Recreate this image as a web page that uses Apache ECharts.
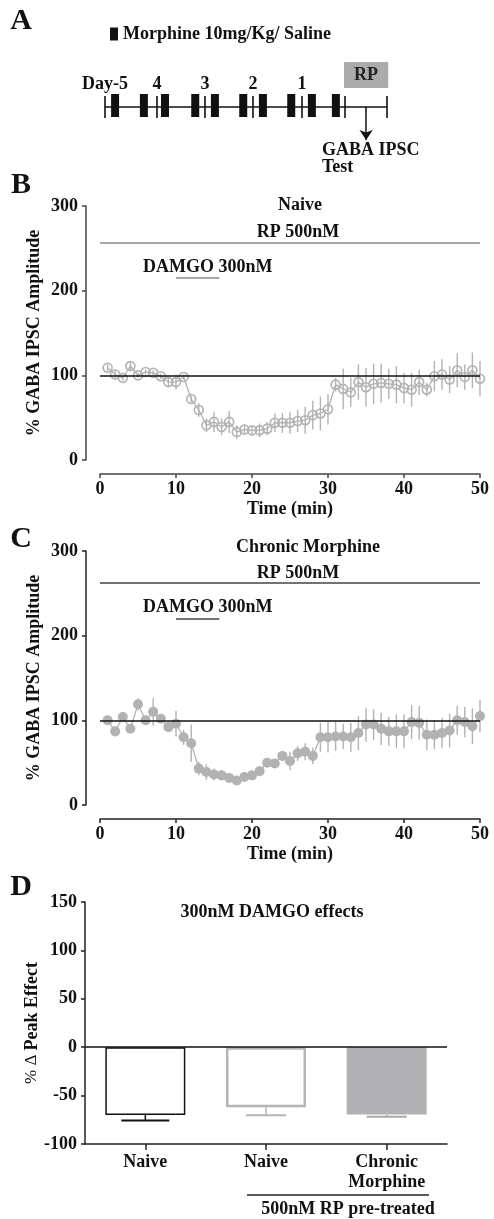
<!DOCTYPE html>
<html><head><meta charset="utf-8">
<script src="https://cdn.jsdelivr.net/npm/echarts@6/dist/echarts.min.js"></script>
<style>html,body{margin:0;padding:0;background:#fff}#c{width:494px;height:1219px}</style>
</head><body><div id="c"></div>
<script>
// ---------- Panel A: treatment schedule (in days from first tick) ----------
const dayTicks = [0, 1.083, 2.083, 3.083, 4.104, 5.0, 5.875];
const dayLabels = ['Day-5', '4', '3', '2', '1', '', ''];
const injections = [0.21, 0.81, 1.25, 1.88, 2.29, 2.88, 3.29, 3.88, 4.31, 4.81];
const rpWindow = [4.98, 5.9];
const testDay = 5.44;

// ---------- Panels B & C: time course ----------
const timeMin = [1,2,3,4,5,6,7,8,9,10,11,12,13,14,15,16,17,18,19,20,21,22,23,24,25,26,27,28,29,30,31,32,33,34,35,36,37,38,39,40,41,42,43,44,45,46,47,48,49,50];
const naiveMean = [109,101,97,111,100,104,103,99,92,92,98,72,59,41,45,39,45,33,36,35,35,37,44,44,44,46,47,53,55,60,89,84,80,92,86,90,91,90,89,85,83,92,83,99,101,95,106,98,106,96];
const naiveSem  = [4,4,3,6,3,3,3,3,5,9,3,4,8,8,12,10,13,8,6,5,8,8,11,12,13,13,16,17,20,18,8,24,17,21,23,24,23,18,22,18,20,15,8,18,18,16,20,15,21,21];
const chronicMean = [100,87,104,90,119,100,110,102,92,96,80,73,43,39,36,35,32,29,33,35,40,50,49,58,52,61,63,58,80,80,81,81,80,85,95,95,90,87,87,87,98,97,83,83,85,88,100,98,93,105];
const chronicSem  = [3,6,3,3,7,3,16,3,6,15,9,22,8,9,7,6,5,5,5,5,6,4,4,6,11,9,10,10,17,18,17,15,17,20,20,18,19,17,20,20,20,20,18,17,18,20,17,18,21,19];
const timeTicks = [0, 50, 10];          // min, max, step
const ampTicks = [0, 300, 100];
const baseline = 100;
const naiveRP = 257, naiveDamgo = 215;      // annotation bar heights (B)
const chronicRP = 262, chronicDamgo = 220;  // annotation bar heights (C)
const rpSpan = [0, 50];
const damgoSpan = [10, 15.7];

// ---------- Panel D: peak effect ----------
const groups = ['Naive', 'Naive', 'Chronic\nMorphine'];
const peakMean = [-70, -62, -69.5];
const peakSem = [5.6, 8.4, 2.3];
const peakTicks = [-100, 150, 50];

// ---------- styles ----------
const F = "'Liberation Serif','Times New Roman',serif";
const BOLD18 = {fontFamily: F, fontWeight: 'bold', fontSize: 18, color: '#111'};
const GRAY_B = '#b3b3b3', GRAY_C = '#b2b2b4';
const barStyles = [
  {color: '#ffffff', borderColor: '#111', borderWidth: 1.5},
  {color: '#ffffff', borderColor: '#b5b5b7', borderWidth: 2.5},
  {color: '#b1b1b4', borderColor: '#b1b1b4', borderWidth: 0}
];
const errColors = ['#111', '#b5b5b7', '#a9a9ac'];
const errCaps = [48, 40, 40];

function vErr(color, w) {
  return function (params, api) {
    const x = api.value(0), y = api.value(1), e = api.value(2);
    const a = api.coord([x, y + e]), b = api.coord([x, y - e]);
    return {type: 'line', shape: {x1: a[0], y1: a[1], x2: b[0], y2: b[1]}, style: {stroke: color, lineWidth: w}};
  };
}

function timeAxis(grid, color) {
  return {
    gridIndex: grid, type: 'value', min: timeTicks[0], max: timeTicks[1], interval: timeTicks[2], offset: 14,
    axisLine: {show: true, onZero: false, lineStyle: {color: color, width: 1.5}},
    axisTick: {show: true, length: 4, lineStyle: {color: color, width: 1.5}},
    axisLabel: Object.assign({margin: 6}, BOLD18),
    splitLine: {show: false},
    name: 'Time (min)', nameLocation: 'middle', nameGap: 26, nameMoveOverlap: false, nameTextStyle: BOLD18
  };
}
function ampAxis(grid, color) {
  return {
    gridIndex: grid, type: 'value', min: ampTicks[0], max: ampTicks[1], interval: ampTicks[2], offset: 14,
    axisLine: {show: true, onZero: false, lineStyle: {color: color, width: 1.5}},
    axisTick: {show: true, length: 4, lineStyle: {color: color, width: 1.5}},
    axisLabel: Object.assign({margin: 8}, BOLD18),
    splitLine: {show: false},
    name: '% GABA IPSC Amplitude', nameLocation: 'middle', nameGap: 43, nameMoveOverlap: false, nameTextStyle: BOLD18
  };
}
function annotLines(rp, damgo, rpColor, dColor) {
  return {
    silent: true, symbol: 'none',
    data: [
      [{coord: [rpSpan[0], baseline], lineStyle: {color: '#111', width: 1.5, type: 'solid'}, label: {show: false}},
       {coord: [rpSpan[1], baseline]}],
      [{coord: [rpSpan[0], rp], name: 'RP 500nM', lineStyle: {color: rpColor, width: 1.5, type: 'solid'},
        label: Object.assign({show: true, position: 'middle', distance: 1, offset: [8, 0], formatter: '{b}'}, BOLD18)},
       {coord: [rpSpan[1], rp]}],
      [{coord: [damgoSpan[0], damgo], name: 'DAMGO 300nM', lineStyle: {color: dColor, width: 1.5, type: 'solid'},
        label: Object.assign({show: true, position: 'middle', distance: 2, offset: [10, 0], formatter: '{b}'}, BOLD18)},
       {coord: [damgoSpan[1], damgo]}]
    ]
  };
}

const chart = echarts.init(document.getElementById('c'), null, {renderer: 'canvas'});
const option = {
  backgroundColor: '#fff',
  animation: false,
  legend: {
    data: ['Morphine 10mg/Kg/ Saline'], left: 105, top: 20, selectedMode: false,
    icon: 'rect', itemWidth: 8, itemHeight: 13, textStyle: BOLD18
  },
  grid: [
    {left: 105, top: 57, width: 283.2, height: 100},
    {left: 100, top: 206, width: 380, height: 254},
    {left: 100, top: 551, width: 380, height: 254},
    {left: 85, top: 902, width: 362, height: 242}
  ],
  xAxis: [
    {gridIndex: 0, type: 'value', min: 0, max: rpWindow[1], show: false},
    timeAxis(1, '#444'),
    timeAxis(2, '#222'),
    {gridIndex: 3, type: 'category', data: groups,
     axisLine: {show: true, onZero: false, lineStyle: {color: '#222', width: 1.5}},
     axisTick: {show: true, alignWithLabel: true, length: 6, lineStyle: {color: '#222', width: 1.5}},
     axisLabel: Object.assign({margin: 8, lineHeight: 20, interval: 0}, BOLD18)}
  ],
  yAxis: [
    {gridIndex: 0, type: 'value', min: -1, max: 1, show: false},
    ampAxis(1, '#444'),
    ampAxis(2, '#222'),
    {gridIndex: 3, type: 'value', min: peakTicks[0], max: peakTicks[1], interval: peakTicks[2],
     axisLine: {show: true, onZero: false, lineStyle: {color: '#222', width: 1.5}},
     axisTick: {show: true, length: 4, lineStyle: {color: '#222', width: 1.5}},
     axisLabel: Object.assign({margin: 8}, BOLD18),
     splitLine: {show: false},
     name: '{a|% Δ }{b|Peak Effect}', nameLocation: 'middle', nameGap: 44, nameMoveOverlap: false,
     nameTextStyle: {rich: {
       a: {fontFamily: F, fontSize: 17, fontWeight: 'normal', color: '#111'},
       b: {fontFamily: F, fontSize: 18, fontWeight: 'bold', color: '#111'}}}}
  ],
  series: [
    // ---- Panel A ----
    {type: 'line', xAxisIndex: 0, yAxisIndex: 0, silent: true, symbol: 'none',
     data: [[dayTicks[0], 0], [dayTicks[dayTicks.length - 1], 0]],
     lineStyle: {color: '#111', width: 1.5},
     markArea: {silent: true, itemStyle: {color: '#ababab', opacity: 1},
       label: Object.assign({show: true, position: 'inside'}, BOLD18, {color: '#222'}),
       data: [[{name: 'RP', coord: [rpWindow[0], 0.9]}, {coord: [rpWindow[1], 0.38]}]]},
     markLine: {silent: true, symbol: ['none', 'arrow'], symbolSize: 10,
       lineStyle: {color: '#111', width: 1.5, type: 'solid'}, label: {show: false},
       data: [[{coord: [testDay, 0]}, {coord: [testDay, -0.66]}]]}},
    {type: 'scatter', name: 'ticks', xAxisIndex: 0, yAxisIndex: 0, silent: true,
     data: dayTicks.map(d => [d, 0]), symbol: 'rect', symbolSize: [1.6, 22],
     itemStyle: {color: '#111', opacity: 1},
     label: Object.assign({show: true, position: 'top', distance: 3, formatter: p => dayLabels[p.dataIndex]}, BOLD18)},
    {type: 'scatter', name: 'Morphine 10mg/Kg/ Saline', xAxisIndex: 0, yAxisIndex: 0, silent: true,
     data: injections.map(d => [d, 0.03]), symbol: 'rect', symbolSize: [8, 23],
     itemStyle: {color: '#111', opacity: 1}},
    // ---- Panel B ----
    {type: 'custom', xAxisIndex: 1, yAxisIndex: 1, silent: true, z: 1,
     data: timeMin.map((t, i) => [t, naiveMean[i], naiveSem[i]]), renderItem: vErr(GRAY_B, 1.4)},
    {type: 'line', xAxisIndex: 1, yAxisIndex: 1, silent: true, z: 3,
     data: timeMin.map((t, i) => [t, naiveMean[i]]),
     symbol: 'circle', symbolSize: 9,
     itemStyle: {color: 'rgba(255,255,255,0)', borderColor: GRAY_B, borderWidth: 1.6},
     lineStyle: {color: GRAY_B, width: 1.3},
     markLine: annotLines(naiveRP, naiveDamgo, '#8a8a8a', '#8a8a8a')},
    // ---- Panel C ----
    {type: 'custom', xAxisIndex: 2, yAxisIndex: 2, silent: true, z: 1,
     data: timeMin.map((t, i) => [t, chronicMean[i], chronicSem[i]]), renderItem: vErr(GRAY_C, 1.4)},
    {type: 'line', xAxisIndex: 2, yAxisIndex: 2, silent: true, z: 3,
     data: timeMin.map((t, i) => [t, chronicMean[i]]),
     symbol: 'circle', symbolSize: 10,
     itemStyle: {color: GRAY_C},
     lineStyle: {color: GRAY_C, width: 1.3},
     markLine: annotLines(chronicRP, chronicDamgo, '#444', '#444')},
    // ---- Panel D ----
    {type: 'bar', xAxisIndex: 3, yAxisIndex: 3, silent: true, barWidth: 80,
     data: peakMean.map((v, i) => ({value: v, itemStyle: barStyles[i]})),
     markLine: {silent: true, symbol: 'none', label: {show: false},
       lineStyle: {color: '#111', width: 1.5, type: 'solid'}, data: [{yAxis: 0}]}},
    {type: 'custom', xAxisIndex: 3, yAxisIndex: 3, silent: true, z: 4,
     data: peakMean.map((v, i) => [i, v, peakSem[i]]),
     renderItem: function (params, api) {
       const i = params.dataIndex;
       const x = api.value(0), y = api.value(1), e = api.value(2);
       const a = api.coord([x, y]), b = api.coord([x, y - e]);
       const cw = errCaps[i];
       return {type: 'group', children: [
         {type: 'line', shape: {x1: a[0], y1: a[1], x2: b[0], y2: b[1]}, style: {stroke: errColors[i], lineWidth: 1.5}},
         {type: 'line', shape: {x1: b[0] - cw / 2, y1: b[1], x2: b[0] + cw / 2, y2: b[1]}, style: {stroke: errColors[i], lineWidth: 2}}
       ]};
     }}
  ],
  graphic: [
    {type: 'text', x: 21, y: 21, style: {text: 'A', font: 'bold 30px ' + F, fill: '#111', align: 'center', verticalAlign: 'middle'}},
    {type: 'text', x: 21, y: 185, style: {text: 'B', font: 'bold 30px ' + F, fill: '#111', align: 'center', verticalAlign: 'middle'}},
    {type: 'text', x: 21, y: 539, style: {text: 'C', font: 'bold 30px ' + F, fill: '#111', align: 'center', verticalAlign: 'middle'}},
    {type: 'text', x: 21, y: 887, style: {text: 'D', font: 'bold 30px ' + F, fill: '#111', align: 'center', verticalAlign: 'middle'}},
    {type: 'text', x: 322, y: 159, style: {text: 'GABA IPSC\nTest', font: 'bold 18px ' + F, lineHeight: 17, fill: '#111', align: 'left', verticalAlign: 'middle'}},
    {type: 'text', x: 300, y: 205, style: {text: 'Naive', font: 'bold 18px ' + F, fill: '#111', align: 'center', verticalAlign: 'middle'}},
    {type: 'text', x: 308, y: 547, style: {text: 'Chronic Morphine', font: 'bold 18px ' + F, fill: '#111', align: 'center', verticalAlign: 'middle'}},
    {type: 'text', x: 272, y: 912, style: {text: '300nM DAMGO effects', font: 'bold 18px ' + F, fill: '#111', align: 'center', verticalAlign: 'middle'}},
    {type: 'line', shape: {x1: 247, y1: 1195, x2: 429, y2: 1195}, style: {stroke: '#222', lineWidth: 1.5}},
    {type: 'text', x: 348, y: 1209, style: {text: '500nM RP pre-treated', font: 'bold 18px ' + F, fill: '#111', align: 'center', verticalAlign: 'middle'}}
  ]
};
chart.setOption(option);
</script></body></html>
